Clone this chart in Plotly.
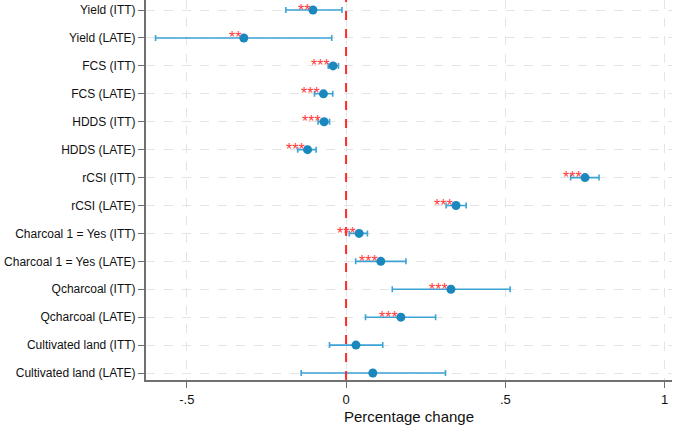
import plotly.graph_objects as go

labels = ["Yield (ITT)", "Yield (LATE)", "FCS (ITT)", "FCS (LATE)", "HDDS (ITT)", "HDDS (LATE)",
          "rCSI (ITT)", "rCSI (LATE)", "Charcoal 1 = Yes (ITT)", "Charcoal 1 = Yes (LATE)",
          "Qcharcoal (ITT)", "Qcharcoal (LATE)", "Cultivated land (ITT)", "Cultivated land (LATE)"]
estimates = [-0.104, -0.321, -0.041, -0.071, -0.069, -0.121, 0.750, 0.345, 0.041, 0.109, 0.329, 0.172, 0.031, 0.084]
ci_low = [-0.189, -0.598, -0.056, -0.099, -0.088, -0.152, 0.705, 0.314, 0.010, 0.030, 0.145, 0.061, -0.052, -0.141]
ci_high = [-0.013, -0.045, -0.024, -0.042, -0.052, -0.094, 0.794, 0.377, 0.067, 0.188, 0.515, 0.281, 0.115, 0.312]
stars = ["**", "**", "***", "***", "***", "***", "***", "***", "***", "***", "***", "***", "", ""]
x_ticks = [-0.5, 0, 0.5, 1]
x_tick_text = ["-.5", "0", ".5", "1"]

pos = list(range(1, len(labels) + 1))
FONT = "Liberation Sans, Arial, sans-serif"

fig = go.Figure()
fig.add_trace(go.Scatter(
    x=estimates, y=pos, mode="markers",
    marker=dict(color="#1a88bd", size=9),
    error_x=dict(type="data", symmetric=False,
                 array=[h - e for h, e in zip(ci_high, estimates)],
                 arrayminus=[e - l for e, l in zip(estimates, ci_low)],
                 color="#3ba3d6", thickness=1.6, width=3),
    showlegend=False, cliponaxis=False,
))

for e, p, s in zip(estimates, pos, stars):
    if s:
        fig.add_annotation(x=e, y=p, text=s, showarrow=False, xanchor="right", yanchor="middle",
                           xshift=-1, yshift=0, font=dict(color="#ff3b3b", size=16, family=FONT))

fig.add_shape(type="line", x0=0, x1=0, y0=0, y1=1, yref="paper", xref="x",
              line=dict(color="#ff2a2a", width=2, dash="dash"))

fig.update_layout(
    width=677, height=428,
    margin=dict(l=146, r=5, t=0, b=48),
    plot_bgcolor="white", paper_bgcolor="white",
    font=dict(family=FONT, size=12, color="#111111"),
    xaxis=dict(range=[-0.628, 1.023], tickvals=x_ticks, ticktext=x_tick_text,
               showgrid=True, gridcolor="#e4e4e4", griddash="dash", gridwidth=1,
               zeroline=False, showline=True, linecolor="#707070", linewidth=2,
               ticks="outside", ticklen=6, tickcolor="#707070",
               title=dict(text="Percentage change", font=dict(size=15), standoff=6),
               tickfont=dict(size=13)),
    yaxis=dict(range=[14.25, 0.64], tickvals=pos, ticktext=labels,
               showgrid=True, gridcolor="#e4e4e4", griddash="dash", gridwidth=1,
               zeroline=False, showline=True, linecolor="#707070", linewidth=2,
               ticks="outside", ticklen=6, tickcolor="#707070",
               tickfont=dict(size=12)),
)

fig.write_html("out.html")
